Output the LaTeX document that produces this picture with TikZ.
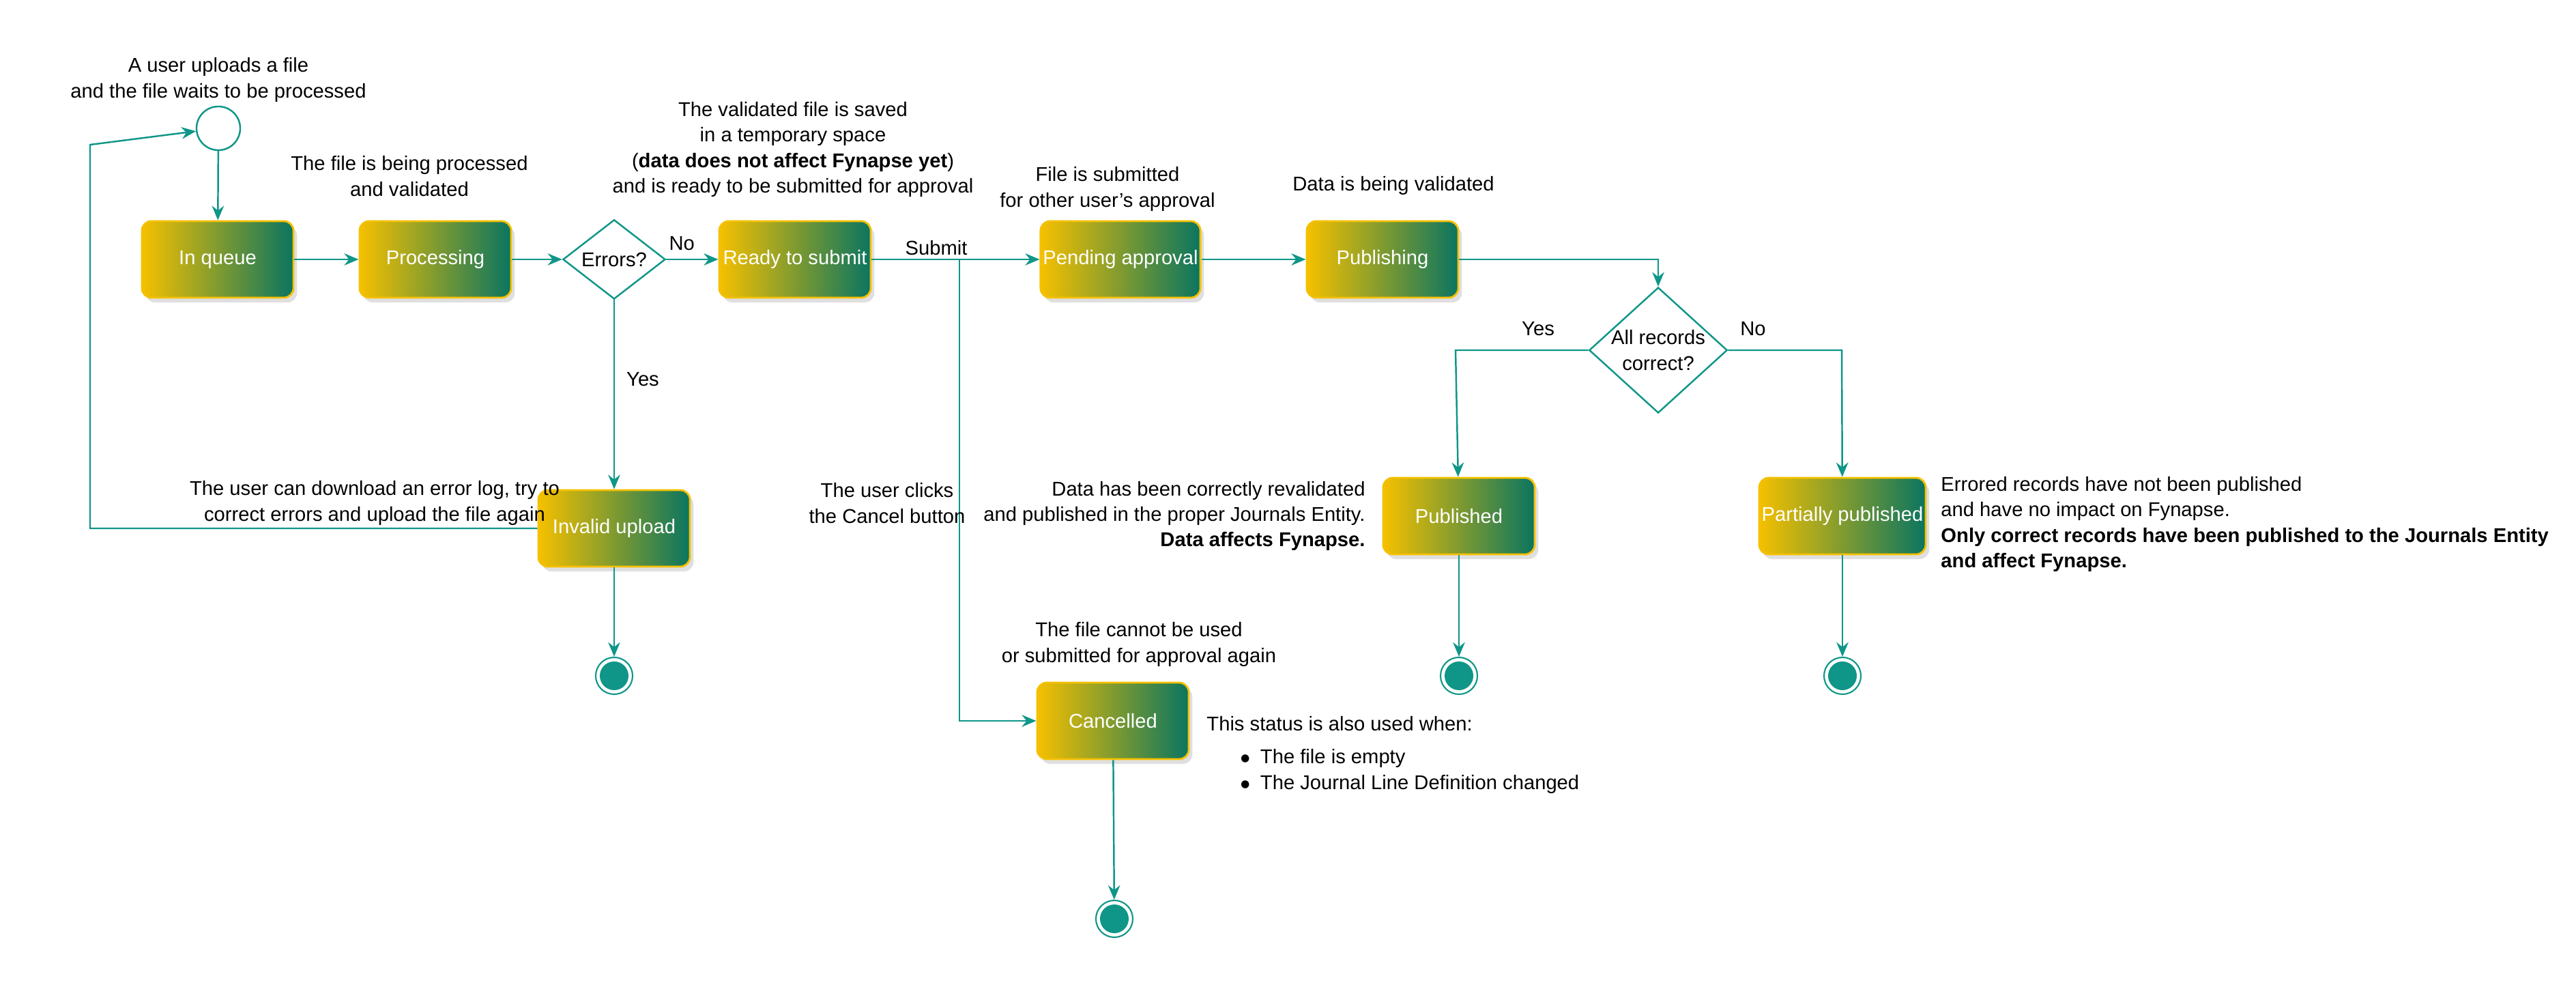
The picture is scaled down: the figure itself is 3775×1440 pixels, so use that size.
\documentclass[tikz,border=0pt]{standalone}
\usepackage{fontspec}
\setmainfont{Liberation Sans}
\usetikzlibrary{arrows.meta,shapes.geometric,shadows}
\definecolor{tealc}{HTML}{0F9688}
\definecolor{ylw}{HTML}{F5C000}
\definecolor{grn}{HTML}{0A7560}
\begin{document}
\begin{tikzpicture}[x=0.01cm,y=-0.01cm,
  every node/.style={font=\fontsize{8.3}{10.6}\selectfont},
  state/.style={rectangle,rounded corners=4pt,draw=ylw,line width=0.8pt,left color=ylw,right color=grn,
    minimum width=2.22cm,minimum height=1.12cm,text=white,inner sep=1pt,
    drop shadow={opacity=0.25,shadow xshift=1.5pt,shadow yshift=-2pt}},
  dec/.style={diamond,draw=tealc,line width=0.7pt,fill=white,aspect=1,minimum width=1.5cm,inner sep=0pt},
  endc/.style={circle,draw=tealc,fill=white,line width=0.6pt,minimum size=0.54cm,inner sep=0pt,
    path picture={\fill[tealc] (path picture bounding box.center) circle (0.21cm);}},
  conn/.style={draw=tealc,line width=0.7pt,-{Stealth[length=6pt,width=5pt,inset=2pt]}},
  lbl/.style={align=center,text=black}]
\useasboundingbox (0,0) rectangle (3775,1440);
% nodes
\node[circle,draw=tealc,line width=0.7pt,minimum size=0.64cm,inner sep=0pt] (start) at (320,188) {};
\node[state] (queue) at (319,380) {In queue};
\node[state] (proc) at (638,380) {Processing};
\node[dec] (err) at (900,380) {Errors?};
\node[state] (ready) at (1165,380) {Ready to submit};
\node[state] (pend) at (1642,380) {Pending approval};
\node[state] (pub) at (2026,380) {Publishing};
\node[dec,minimum width=1.64cm,aspect=1.1,align=center] (all) at (2430,513) {All records\\correct?};
\node[state] (published) at (2138,756) {Published};
\node[state] (partial) at (2700,756) {Partially published};
\node[state] (invalid) at (900,774) {Invalid upload};
\node[state] (cancel) at (1631,1056) {Cancelled};
\node[endc] (e1) at (900,990) {};
\node[endc] (e2) at (2138,990) {};
\node[endc] (e3) at (2700,990) {};
\node[endc] (e4) at (1633,1346) {};
\coordinate (loopA) at (132,774);
\coordinate (loopB) at (132,212);
\coordinate (junc) at (1406,380);
\coordinate (juncD) at (1406,1056);
\coordinate (allL) at (2133,513);
\coordinate (allR) at (2699,513);
\coordinate (pubR) at (2430,380);
% connectors
\draw[conn] (start) -- (queue);
\draw[conn] (queue) -- (proc);
\draw[conn] (proc) -- (err);
\draw[conn] (err) -- node[above,pos=0.3,text=black]{No} (ready);
\draw[conn] (err) -- (invalid);
\draw[conn] (ready) -- (pend);
\draw[conn] (junc) -- (juncD) -- (cancel);
\draw[conn] (pend) -- (pub);
\draw[conn] (pub) -- (pubR) -- (all);
\draw[conn] (all) -- (allL) -- (published);
\draw[conn] (all) -- (allR) -- (partial);
\draw[conn] (invalid) -- (loopA) -- (loopB) -- (start);
\draw[conn] (invalid) -- (e1);
\draw[conn] (published) -- (e2);
\draw[conn] (partial) -- (e3);
\draw[conn] (cancel) -- (e4);
% labels
\node[lbl] (t1) at (320,117) {A user uploads a file\\and the file waits to be processed};
\node[lbl] (t2) at (600,258) {The file is being processed\\and validated};
\node[lbl] (t3) at (1162,219) {The validated file is saved\\in a temporary space\\(\textbf{data does not affect Fynapse yet})\\and is ready to be submitted for approval};
\node[lbl] (t4) at (1623,277) {File is submitted\\for other user's approval};
\node[lbl] (t5) at (2042,272) {Data is being validated};
\node[lbl] (t6) at (1372,363) {Submit};
\node[lbl] (t7) at (942,556) {Yes};
\node[lbl] (t8) at (2254,482) {Yes};
\node[lbl] (t9) at (2569,482) {No};
\node[lbl] (t10) at (549,737) {The user can download an error log, try to\\correct errors and upload the file again};
\node[lbl] (t11) at (1300,737) {The user clicks\\the Cancel button};
\node[lbl,align=right,anchor=east] (t12) at (2013,756) {Data has been correctly revalidated\\and published in the proper Journals Entity.\\\textbf{Data affects Fynapse.}};
\node[lbl,align=left,anchor=west] (t13) at (2832,768) {Errored records have not been published\\and have no impact on Fynapse.\\\textbf{Only correct records have been published to the Journals Entity}\\\textbf{and affect Fynapse.}};
\node[lbl] (t14) at (1669,944) {The file cannot be used\\or submitted for approval again};
\node[lbl,anchor=west] (t15) at (1756,1060) {This status is also used when:};
\node[lbl,align=left,anchor=west] (t16) at (1805,1130) {$\bullet$\enspace The file is empty\\$\bullet$\enspace The Journal Line Definition changed};
\end{tikzpicture}
\end{document}
